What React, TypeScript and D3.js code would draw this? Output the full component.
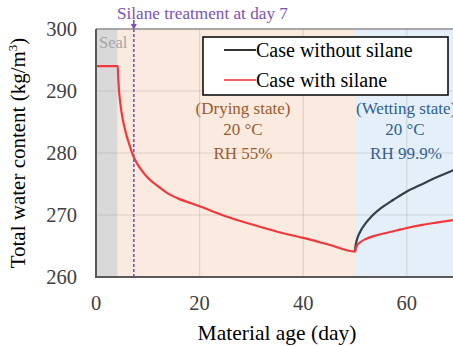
import React from "react";
import * as d3 from "d3";

const W = 453;
const H = 346;

const xTicks = [0, 20, 40, 60];
const yTicks = [260, 270, 280, 290, 300];

// Case with silane (drying then wetting)
const withDays = [0, 4.2, 4.3, 4.45, 4.7, 5.0, 5.4, 5.9, 6.5, 7.1, 8, 9, 10, 12, 14, 16, 18, 20, 25, 30, 35, 40, 45, 50, 50.2, 50.5, 51, 52, 54, 56, 58, 60, 63, 66, 70];
const withValues = [294, 294, 292.0, 290.0, 288.0, 286.2, 284.5, 282.8, 281.2, 279.7, 278.2, 277.0, 276.0, 274.6, 273.4, 272.6, 272.0, 271.4, 269.8, 268.5, 267.3, 266.3, 265.2, 264.1, 264.7, 265.2, 265.6, 266.1, 266.7, 267.1, 267.5, 267.9, 268.4, 268.8, 269.3];

// Case without silane (wetting part; identical to the red curve before day 50)
const withoutDays = [50, 50.1, 50.3, 50.6, 51, 52, 53, 55, 57.5, 60, 62.5, 65, 67.5, 70];
const withoutValues = [264.1, 265.0, 265.8, 266.6, 267.3, 268.6, 269.6, 271.1, 272.5, 273.8, 274.8, 275.8, 276.7, 277.6];

const sealEnd = 4.2;
const wetStart = 50;
const silaneDay = 7.3;

const legendLabels = ["Case without silane", "Case with silane"];
const FONT = "'Liberation Serif', 'Times New Roman', serif";

export default function App() {
  const x = d3.scaleLinear().domain([0, 70]).range([96, 458.6]);
  const y = d3.scaleLinear().domain([260, 300]).range([277, 29]);
  const line = d3
    .line<[number, number]>()
    .x((d) => x(d[0]))
    .y((d) => y(d[1]))
    .curve(d3.curveMonotoneX);

  const redPts: [number, number][] = withDays.map((d, i) => [d, withValues[i]]);
  const blackPts: [number, number][] = withoutDays.map((d, i) => [d, withoutValues[i]]);

  const top = y(300);
  const bot = y(260);
  const left = x(0);
  const right = x(70);

  return (
    <svg width={W} height={H} style={{ position: "absolute", left: 0, top: 0, background: "#fff", fontFamily: FONT }}>
      <defs>
        <clipPath id="plotclip">
          <rect x={left} y={top} width={right - left} height={bot - top} />
        </clipPath>
      </defs>
      <g clipPath="url(#plotclip)">
        <rect x={x(0)} y={top} width={x(sealEnd) - x(0)} height={bot - top} fill="#D9D9D9" />
        <rect x={x(sealEnd)} y={top} width={x(wetStart) - x(sealEnd)} height={bot - top} fill="#FBEADF" />
        <rect x={x(wetStart)} y={top} width={x(70) - x(wetStart)} height={bot - top} fill="#E5EFF9" />
        {xTicks.filter((t) => t > 0).map((t) => (
          <line key={"gx" + t} x1={x(t)} x2={x(t)} y1={top} y2={bot} stroke="#8a8a8a" strokeOpacity={0.25} strokeWidth={1.2} />
        ))}
        {yTicks.filter((t) => t > 260 && t < 300).map((t) => (
          <line key={"gy" + t} x1={left} x2={right} y1={y(t)} y2={y(t)} stroke="#8a8a8a" strokeOpacity={0.25} strokeWidth={1.2} />
        ))}
        <text x={99} y={48} fontSize={16.5} fill="#A6A6A6">Seal</text>
        <g fontSize={17} fill="#9C5A2C" textAnchor="middle">
          <text x={243} y={114}>(Drying state)</text>
          <text x={243} y={135}>20 °C</text>
          <text x={243} y={159}>RH 55%</text>
        </g>
        <g fontSize={17} fill="#2F5F8F" textAnchor="middle">
          <text x={356} y={114} textAnchor="start">(Wetting state)</text>
          <text x={405} y={135}>20 °C</text>
          <text x={406} y={159}>RH 99.9%</text>
        </g>
        <path d={line(blackPts) || ""} fill="none" stroke="#36404A" strokeWidth={2.2} />
        <path d={line(redPts) || ""} fill="none" stroke="#F2383C" strokeWidth={2.2} />
        <line x1={x(silaneDay)} x2={x(silaneDay)} y1={top} y2={bot} stroke="#7E52B4" strokeWidth={1.6} strokeDasharray="3,2" />
      </g>
      {/* frame */}
      <line x1={left} x2={right} y1={top} y2={top} stroke="#8C8C8C" strokeWidth={1.3} />
      <line x1={left} x2={left} y1={top} y2={bot} stroke="#595959" strokeWidth={2} />
      <line x1={left - 1} x2={right} y1={bot} y2={bot} stroke="#595959" strokeWidth={2} />
      {/* silane annotation */}
      <text x={117} y={19} fontSize={17.2} fill="#7E52B4">Silane treatment at day 7</text>
      <line x1={x(silaneDay)} x2={x(silaneDay)} y1={20} y2={26} stroke="#7E52B4" strokeWidth={1.6} />
      <path d={`M${x(silaneDay) - 3},24 L${x(silaneDay) + 3},24 L${x(silaneDay)},30 Z`} fill="#7E52B4" />
      {/* legend */}
      <rect x={203} y={37} width={245} height={58} fill="#fff" stroke="#000" strokeWidth={1.5} />
      <line x1={224} x2={256} y1={50} y2={50} stroke="#000" strokeWidth={1.6} />
      <line x1={224} x2={256} y1={80} y2={80} stroke="#F2383C" strokeWidth={1.6} />
      <text x={256} y={57} fontSize={20} fill="#000">{legendLabels[0]}</text>
      <text x={256} y={87} fontSize={20} fill="#000">{legendLabels[1]}</text>
      {/* axis ticks */}
      {yTicks.map((t) => (
        <text key={"yt" + t} x={77} y={y(t) + 7} fontSize={20.5} fill="#404040" textAnchor="end">{t}</text>
      ))}
      {xTicks.map((t) => (
        <text key={"xt" + t} x={x(t)} y={310} fontSize={20.5} fill="#404040" textAnchor="middle">{t}</text>
      ))}
      <text x={277} y={340} fontSize={21.5} fill="#000" textAnchor="middle">Material age (day)</text>
      <text transform={`translate(25,153) rotate(-90)`} fontSize={21} fill="#000" textAnchor="middle">
        Total water content (kg/m<tspan dy={-8} fontSize={13}>3</tspan><tspan dy={8}>)</tspan>
      </text>
    </svg>
  );
}
